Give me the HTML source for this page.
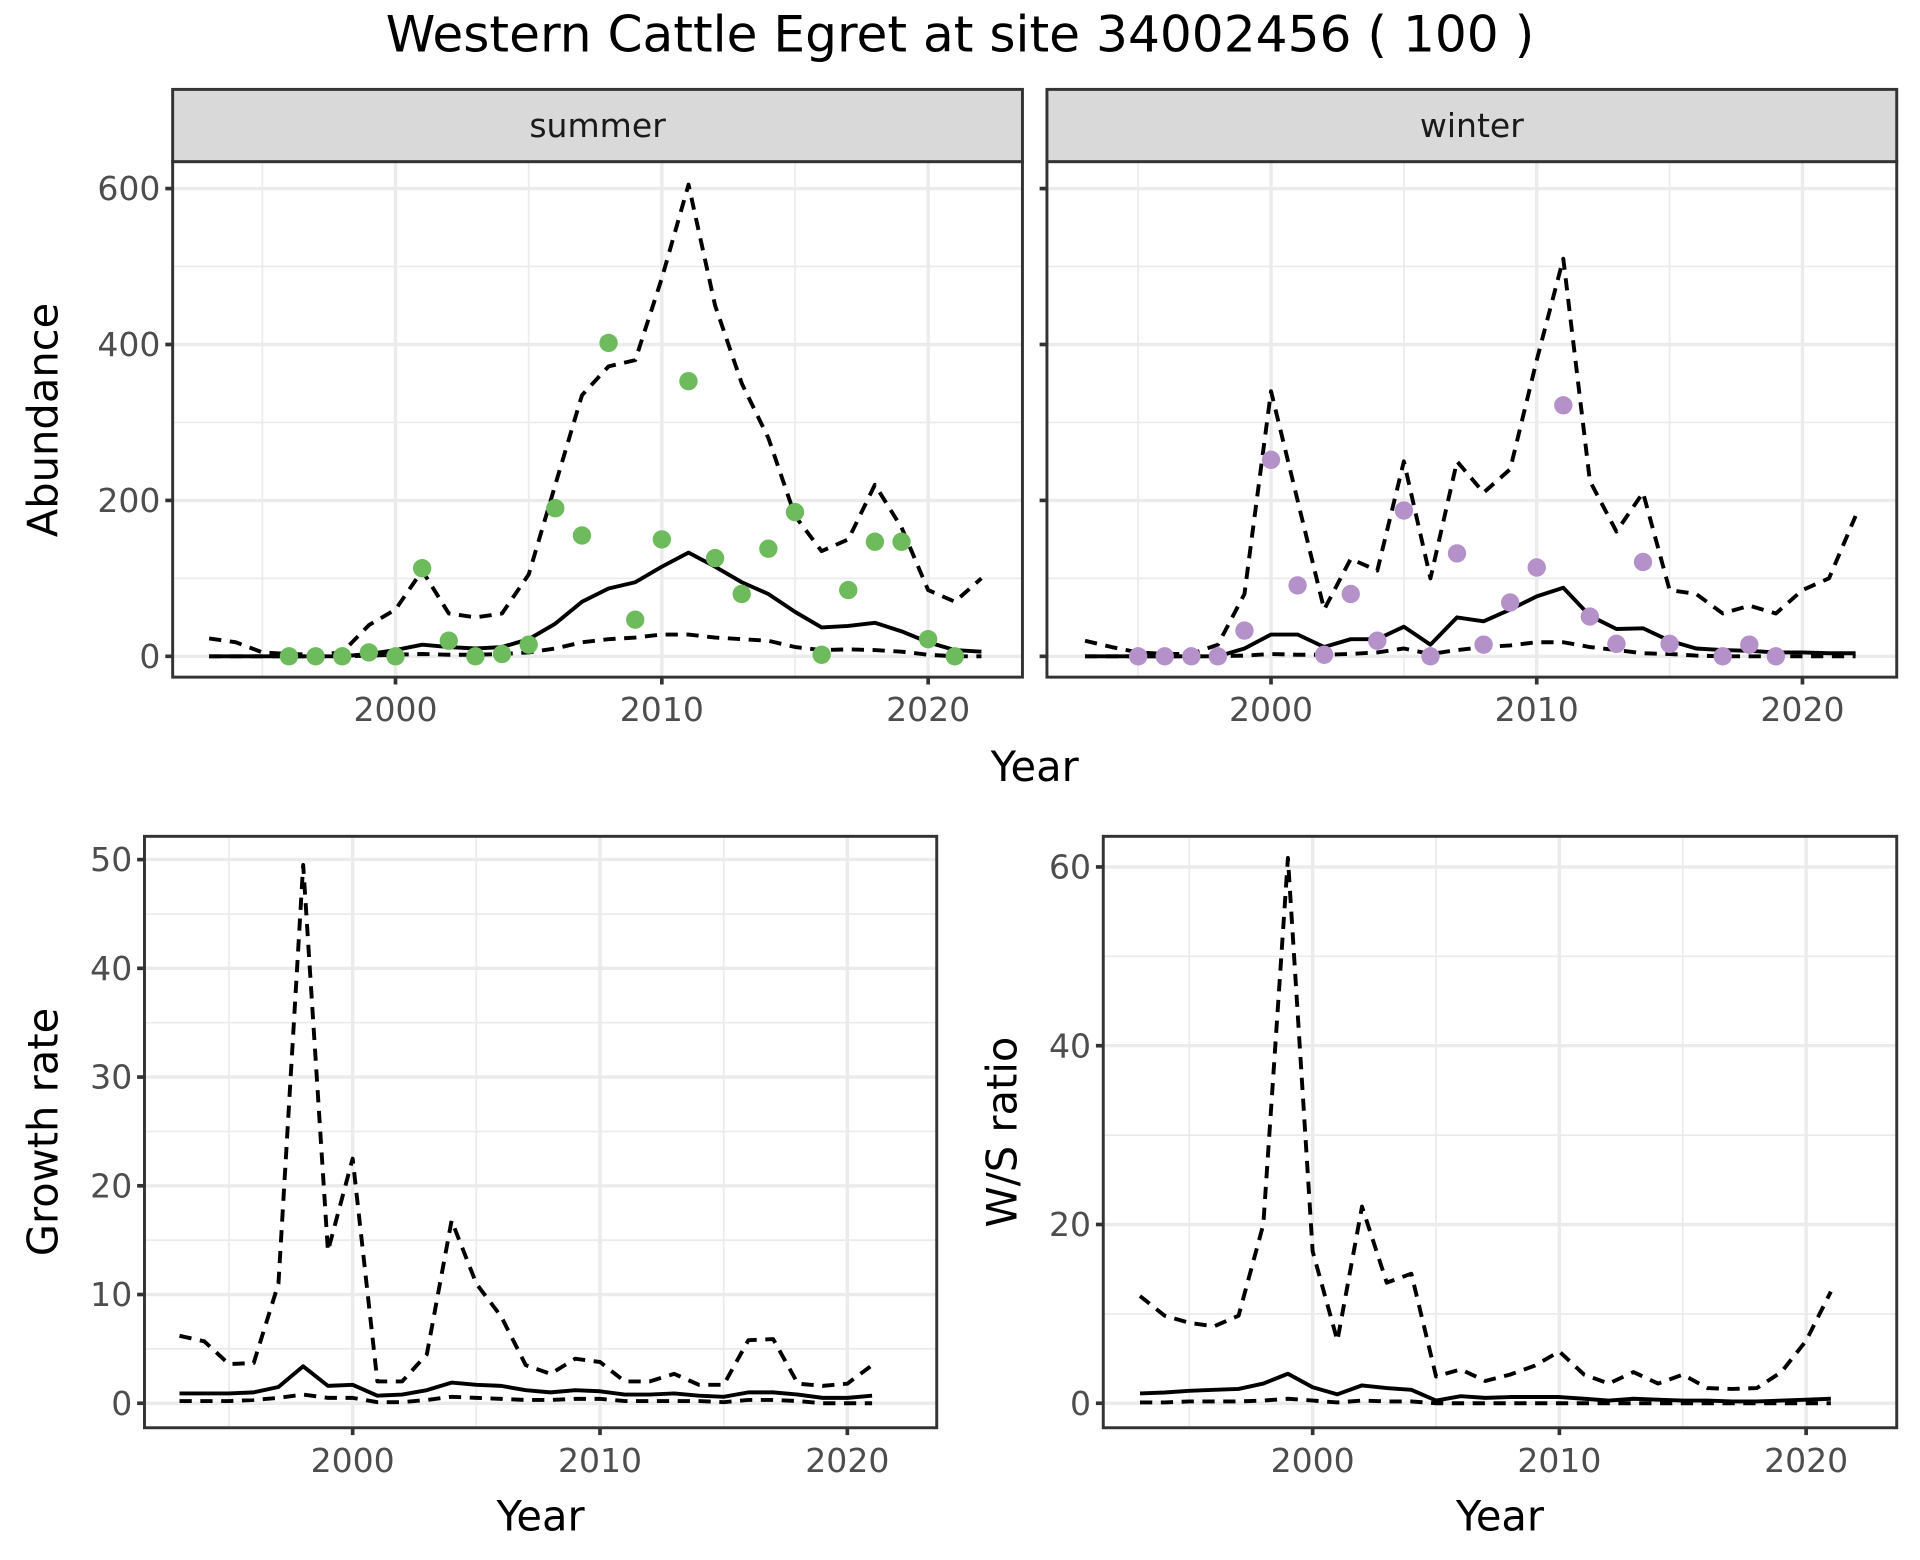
<!DOCTYPE html>
<html><head><meta charset="utf-8"><style>
html,body{margin:0;padding:0;background:#fff;}
svg{display:block;font-family:"DejaVu Sans","Liberation Sans",sans-serif;}
</style></head><body>
<svg id="chart" width="1920" height="1560" viewBox="0 0 1568 1274" xmlns="http://www.w3.org/2000/svg">
<rect width="1568" height="1274" fill="#fff"/>
<text x="784" y="42" text-anchor="middle" font-size="41" fill="#000">Western Cattle Egret at site 34002456 ( 100 )</text>
</svg>
<script>
const yearsAll = [1993,1994,1995,1996,1997,1998,1999,2000,2001,2002,2003,2004,2005,2006,2007,2008,2009,2010,2011,2012,2013,2014,2015,2016,2017,2018,2019,2020,2021,2022];
const summerMed = [0,0,0,0,0,0,3,8,15,12,10,12,22,42,70,87,95,115,133,115,95,80,57,37,39,43,32,18,8,6];
const summerUp = [23,18,5,3,2,5,40,60,110,55,50,55,105,220,335,372,380,485,605,450,350,280,180,135,150,220,165,85,70,100];
const summerLo = [0,0,0,0,0,0,1,2,3,2,2,3,5,10,18,22,24,28,28,24,22,20,12,8,9,8,6,2,0,0];
const summerPtYears = [1996,1997,1998,1999,2000,2001,2002,2003,2004,2005,2006,2007,2008,2009,2010,2011,2012,2013,2014,2015,2016,2017,2018,2019,2020,2021];
const summerPts = [0,0,0,5,0,113,20,0,3,15,190,155,402,47,150,353,126,80,138,185,2,85,147,147,22,0];
const winterMed = [0,0,0,0,0,0,10,28,28,12,22,22,38,15,50,45,60,77,88,52,35,36,20,10,8,7,5,5,4,4];
const winterUp = [20,12,5,3,3,15,80,340,200,60,125,110,250,100,250,210,240,380,510,225,160,210,85,80,55,65,55,85,100,180];
const winterLo = [0,0,0,0,0,0,1,3,2,2,3,5,10,3,8,12,14,18,18,12,8,4,3,1,0,0,0,0,0,0];
const winterPtYears = [1995,1996,1997,1998,1999,2000,2001,2002,2003,2004,2005,2006,2007,2008,2009,2010,2011,2012,2013,2014,2015,2017,2018,2019];
const winterPts = [0,0,0,0,33,252,91,2,80,20,187,0,132,15,69,114,322,51,16,121,16,0,15,0];
const yearsRatio = [1993,1994,1995,1996,1997,1998,1999,2000,2001,2002,2003,2004,2005,2006,2007,2008,2009,2010,2011,2012,2013,2014,2015,2016,2017,2018,2019,2020,2021];
const growthMed = [0.9,0.9,0.9,1.0,1.5,3.4,1.6,1.7,0.7,0.8,1.2,1.9,1.7,1.6,1.2,1.0,1.2,1.1,0.8,0.8,0.9,0.7,0.6,1.0,1.0,0.8,0.5,0.5,0.7];
const growthUp = [6.2,5.7,3.6,3.7,11,49.5,14,22.5,2.0,2.0,4.5,16.8,11,8,3.5,2.7,4.1,3.8,2.0,2.0,2.7,1.7,1.7,5.8,5.9,1.8,1.6,1.8,3.5];
const growthLo = [0.2,0.2,0.2,0.3,0.5,0.8,0.5,0.5,0.1,0.1,0.3,0.6,0.5,0.4,0.3,0.3,0.4,0.4,0.2,0.2,0.2,0.2,0.1,0.3,0.3,0.2,0.0,0.0,0.0];
const wsMed = [1.1,1.2,1.4,1.5,1.6,2.2,3.3,1.8,1.0,2.0,1.7,1.5,0.3,0.8,0.6,0.7,0.7,0.7,0.5,0.3,0.5,0.4,0.3,0.3,0.2,0.2,0.3,0.4,0.5];
const wsUp = [12,9.8,9,8.6,9.8,20,61,17,7,22,13.5,14.5,3,3.8,2.5,3.2,4.2,5.8,3.2,2.2,3.5,2.2,3.2,1.7,1.6,1.7,3.5,7,12.5];
const wsLo = [0.1,0.1,0.2,0.2,0.2,0.3,0.5,0.3,0.1,0.3,0.2,0.2,0,0,0,0,0,0,0,0,0,0,0,0,0,0,0,0,0];
const abTicks = [0,200,400,600];
const growthTicks = [0,10,20,30,40,50];
const wsTicks = [0,20,40,60];
const xTicks = [2000,2010,2020];

const svg = document.getElementById('chart');
const NS = 'http://www.w3.org/2000/svg';
const TICK_FS = 27, AXIS_FS = 34;
function mk(tag, attrs, parent){
  const e = document.createElementNS(NS, tag);
  for (const k in attrs) e.setAttribute(k, attrs[k]);
  (parent||svg).appendChild(e);
  return e;
}

function panel(cfg){
  const g = mk('g', {});
  
  
  const xs = y => cfg.x0 + (y - 2000) * (cfg.x1 - cfg.x0) / 20;
  const ys = v => cfg.y0 + (v - cfg.v0) * (cfg.y1 - cfg.y0) / (cfg.v1 - cfg.v0);
  const minorY = [];
  for (let i = 0; i < cfg.ticks.length - 1; i++) minorY.push((cfg.ticks[i] + cfg.ticks[i+1]) / 2);
  minorY.forEach(v => { const l = mk('line', {x1:cfg.L, x2:cfg.R, y1:ys(v), y2:ys(v), stroke:'#ebebeb', 'stroke-width':1.4}, g);
      });
  [1995,2005,2015].forEach(v => { const l = mk('line', {x1:xs(v), x2:xs(v), y1:cfg.T, y2:cfg.B, stroke:'#ebebeb', 'stroke-width':1.4}, g);
      });
  cfg.ticks.forEach(v => { const l = mk('line', {x1:cfg.L, x2:cfg.R, y1:ys(v), y2:ys(v), stroke:'#ebebeb', 'stroke-width':2.8}, g);
      });
  xTicks.forEach(v => { const l = mk('line', {x1:xs(v), x2:xs(v), y1:cfg.T, y2:cfg.B, stroke:'#ebebeb', 'stroke-width':2.8}, g);
      });
  cfg.lines.forEach(s => {
    const pts = s.vals.map((v,i) => xs(s.years[i]).toFixed(1) + ',' + ys(v).toFixed(1)).join(' ');
    const p = mk('polyline', {points:pts, fill:'none', stroke:'#000', 'stroke-width':3.2, 'stroke-linejoin':'round'}, g);
    if (s.dash) p.setAttribute('stroke-dasharray','10 7');
    
    
  });
  if (cfg.pts) {
    cfg.pts.vals.forEach((v,i) => {
      const c = mk('circle', {cx:xs(cfg.pts.years[i]), cy:ys(v), r:7.5, fill:cfg.pts.color}, g);
      
      
    });
  }
  const b = mk('rect', {x:cfg.L, y:cfg.T, width:cfg.R-cfg.L, height:cfg.B-cfg.T, fill:'none', stroke:'#333', 'stroke-width':2.4}, g);
   
  if (cfg.strip) {
    const s = mk('rect', {x:cfg.L, y:cfg.T-59, width:cfg.R-cfg.L, height:59, fill:'#d9d9d9', stroke:'#333', 'stroke-width':2.4}, g);
     
    const t = mk('text', {x:(cfg.L+cfg.R)/2, y:cfg.T-20, 'text-anchor':'middle', 'font-size':TICK_FS, fill:'#1a1a1a'}, g);
    t.textContent = cfg.strip;
     
  }
  xTicks.forEach(v => {
    const l = mk('line', {x1:xs(v), x2:xs(v), y1:cfg.B, y2:cfg.B+6, stroke:'#333', 'stroke-width':3}, g);
     
    const t = mk('text', {x:xs(v), y:cfg.B+36, 'text-anchor':'middle', 'font-size':TICK_FS, fill:'#4d4d4d'}, g);
    t.textContent = v;
     
  });
  cfg.ticks.forEach(v => {
    const l = mk('line', {x1:cfg.L-6, x2:cfg.L, y1:ys(v), y2:ys(v), stroke:'#333', 'stroke-width':3}, g);
     
    if (cfg.yLabels) {
      const t = mk('text', {x:cfg.L-10, y:ys(v)+9.5, 'text-anchor':'end', 'font-size':TICK_FS, fill:'#4d4d4d'}, g);
      t.textContent = v;
       
    }
  });
  if (cfg.ytitle) {
    const t = mk('text', {x:0, y:0, 'text-anchor':'middle', 'font-size':AXIS_FS, fill:'#000', transform:`translate(${cfg.ytx},${cfg.ytc || (cfg.T+cfg.B)/2}) rotate(-90)`}, g);
    t.textContent = cfg.ytitle;
     
  }
  if (cfg.xtitle) {
    const t = mk('text', {x:(cfg.L+cfg.R)/2, y:cfg.B+84, 'text-anchor':'middle', 'font-size':AXIS_FS, fill:'#000'}, g);
    t.textContent = cfg.xtitle;
     
  }
}

panel({name:'summer-panel', L:141, R:835, T:132, B:553, x0:323, x1:758, y0:536, y1:154, v0:0, v1:600,
  ticks:abTicks, yLabels:true, ytitle:'Abundance', ytx:47, ytc:343, strip:'summer',
  lines:[{years:yearsAll, vals:summerUp, dash:true, name:'summer-upper-ci'},
         {years:yearsAll, vals:summerLo, dash:true, name:'summer-lower-ci'},
         {years:yearsAll, vals:summerMed, dash:false, name:'summer-median'}],
  pts:{years:summerPtYears, vals:summerPts, color:'#6dbb5d'}});
panel({name:'winter-panel', L:855, R:1549, T:132, B:553, x0:1038, x1:1472, y0:536, y1:154, v0:0, v1:600,
  ticks:abTicks, yLabels:false, strip:'winter',
  lines:[{years:yearsAll, vals:winterUp, dash:true, name:'winter-upper-ci'},
         {years:yearsAll, vals:winterLo, dash:true, name:'winter-lower-ci'},
         {years:yearsAll, vals:winterMed, dash:false, name:'winter-median'}],
  pts:{years:winterPtYears, vals:winterPts, color:'#b491c8'}});
(function(){ const t = mk('text', {x:845, y:638, 'text-anchor':'middle', 'font-size':AXIS_FS, fill:'#000'});
  t.textContent = 'Year';
    })();
panel({name:'growth-rate-panel', L:118, R:765, T:683, B:1166, x0:288, x1:692, y0:1146, y1:702, v0:0, v1:50,
  ticks:growthTicks, yLabels:true, ytitle:'Growth rate', ytx:47, xtitle:'Year',
  lines:[{years:yearsRatio, vals:growthUp, dash:true, name:'growth-upper-ci'},
         {years:yearsRatio, vals:growthLo, dash:true, name:'growth-lower-ci'},
         {years:yearsRatio, vals:growthMed, dash:false, name:'growth-median'}]});
panel({name:'ws-ratio-panel', L:901, R:1549, T:683, B:1166, x0:1072, x1:1475, y0:1146, y1:708, v0:0, v1:60,
  ticks:wsTicks, yLabels:true, ytitle:'W/S ratio', ytx:830, xtitle:'Year',
  lines:[{years:yearsRatio, vals:wsUp, dash:true, name:'ws-upper-ci'},
         {years:yearsRatio, vals:wsLo, dash:true, name:'ws-lower-ci'},
         {years:yearsRatio, vals:wsMed, dash:false, name:'ws-median'}]});
</script>
</body></html>
